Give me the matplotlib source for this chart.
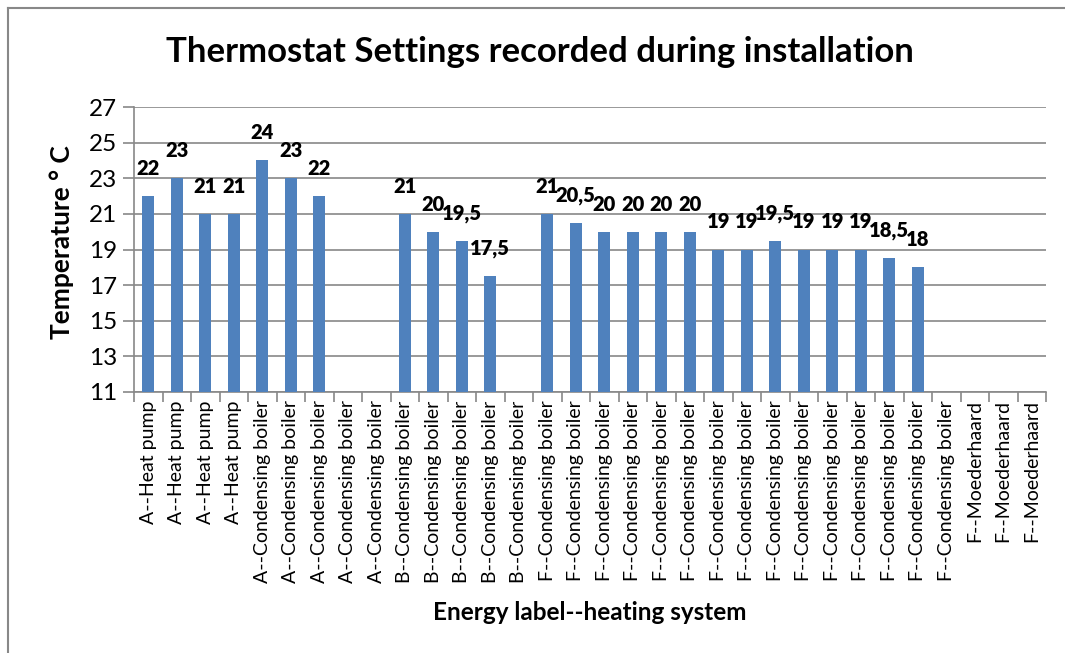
import matplotlib.pyplot as plt
import numpy as np
from matplotlib.lines import Line2D

plt.rcParams["font.family"] = ["Lato", "DejaVu Sans"]

# Categories and recorded thermostat settings (nan = no value recorded)
categories = (
    ["A--Heat pump"] * 4
    + ["A--Condensing boiler"] * 5
    + ["B--Condensing boiler"] * 5
    + ["F--Condensing boiler"] * 15
    + ["F--Moederhaard"] * 3
)
temperatures = [
    22, 23, 21, 21,
    24, 23, 22, np.nan, np.nan,
    21, 20, 19.5, 17.5, np.nan,
    21, 20.5, 20, 20, 20, 20, 19, 19, 19.5, 19, 19, 19, 18.5, 18, np.nan,
    np.nan, np.nan, np.nan,
]
y_ticks = [11, 13, 15, 17, 19, 21, 23, 25, 27]


def fmt(v):
    s = f"{v:g}"
    return s.replace(".", ",")


def make_plot():
    fig = plt.figure(figsize=(10.65, 6.53), dpi=100)
    ax = fig.add_axes([134 / 1065, 1 - 392 / 653, 912 / 1065, 285 / 653])

    grey = "#888888"
    x = np.arange(len(categories))
    vals = np.array(temperatures, dtype=float)
    bottom = y_ticks[0]
    ax.bar(x, vals - bottom, bottom=bottom, width=0.41, color="#4F81BD",
           zorder=3)
    for xi, v in zip(x, vals):
        if np.isnan(v):
            continue
        ax.annotate(fmt(v), (xi, v), xytext=(0, 13), textcoords="offset points",
                    ha="center", va="bottom", fontsize=14.5,
                    fontweight="heavy", zorder=4)

    ax.set_xlim(-0.5, len(categories) - 0.5)
    ax.set_ylim(y_ticks[0], y_ticks[-1])
    ax.set_yticks(y_ticks)
    ax.yaxis.grid(True, color=grey, linewidth=1.2, zorder=0)
    ax.tick_params(axis="y", labelsize=17.5, length=8, color=grey, width=1.2,
                   pad=4)

    ax.set_xticks(x)
    ax.set_xticklabels(categories, rotation=90, fontsize=14)
    ax.set_xticks(np.arange(-0.5, len(categories)), minor=True)
    ax.tick_params(axis="x", which="major", length=0, pad=6)
    ax.tick_params(axis="x", which="minor", length=7, color=grey, width=1.2)

    for side in ["top", "right"]:
        ax.spines[side].set_visible(False)
    for side in ["left", "bottom"]:
        ax.spines[side].set_color(grey)
        ax.spines[side].set_linewidth(1.2)

    fig.text(62 / 1065, 1 - 242 / 653, "Temperature ° C", rotation=90,
             ha="center", va="center", fontsize=19, fontweight="bold")
    fig.text(590 / 1065, 1 - 612 / 653, "Energy label--heating system",
             ha="center", va="center", fontsize=17.5, fontweight="bold")
    fig.text(540 / 1065, 1 - 52 / 653,
             "Thermostat Settings recorded during installation",
             ha="center", va="center", fontsize=25, fontweight="bold")

    # outer chart border (left and top edges visible)
    fig.add_artist(Line2D([8 / 1065, 8 / 1065], [0, 1 - 8 / 653],
                          transform=fig.transFigure, color=grey, lw=1.5))
    fig.add_artist(Line2D([8 / 1065, 1], [1 - 8 / 653, 1 - 8 / 653],
                          transform=fig.transFigure, color=grey, lw=1.5))

    fig.savefig("out.png", dpi=100)


if __name__ == "__main__":
    make_plot()
